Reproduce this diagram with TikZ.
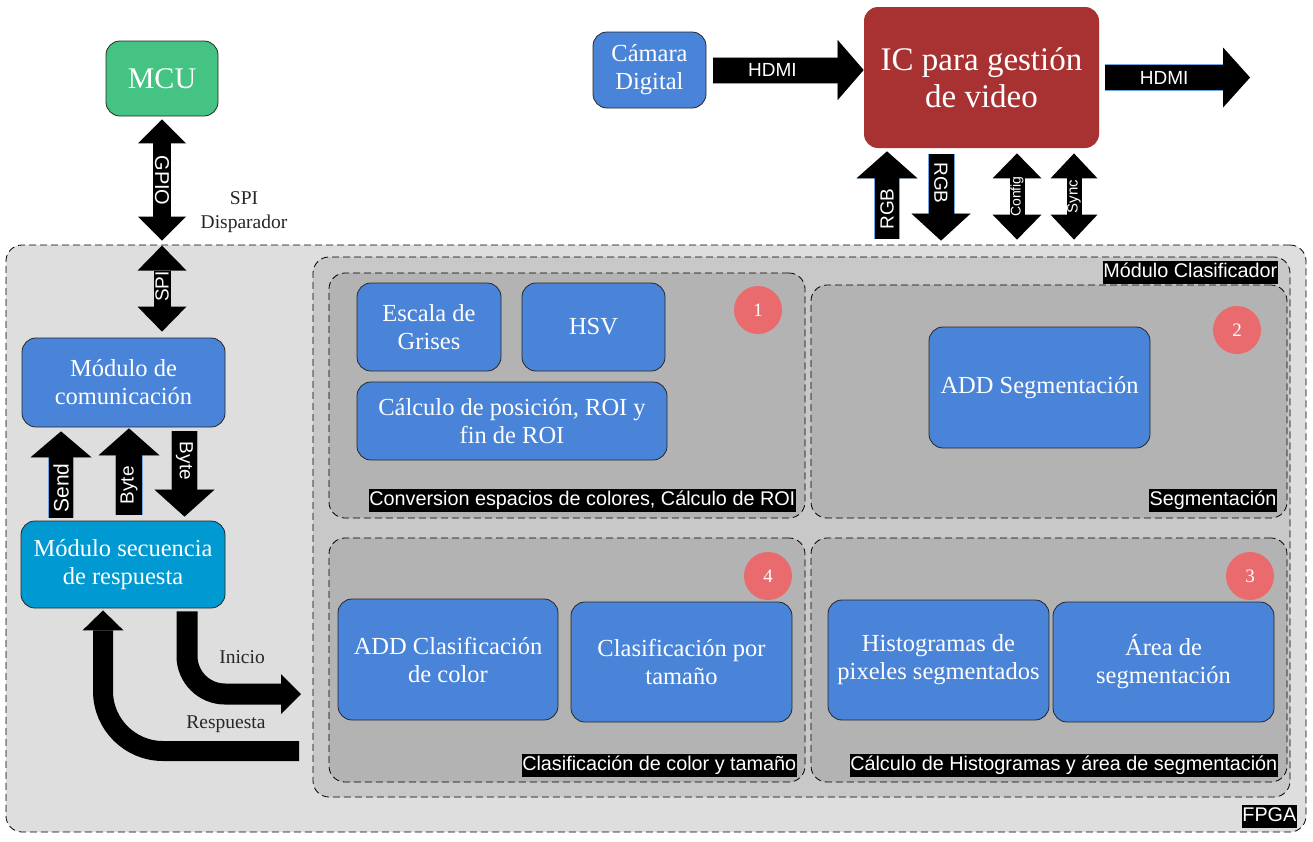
\documentclass[tikz,border=0pt]{standalone}
\usepackage{fontspec}
\setmainfont{Liberation Serif}
\setsansfont{Liberation Sans}
\usetikzlibrary{arrows.meta}

\definecolor{fpgagray}{RGB}{222,222,222}
\definecolor{clsgray}{RGB}{200,200,200}
\definecolor{subgray}{RGB}{179,179,179}
\definecolor{modblue}{RGB}{74,132,216}
\definecolor{seqblue}{RGB}{0,153,209}
\definecolor{mcugreen}{RGB}{68,195,131}
\definecolor{icred}{RGB}{168,50,50}
\definecolor{numred}{RGB}{234,107,110}
\definecolor{edgeblue}{RGB}{110,170,225}

\tikzset{
	modbox/.style={draw=black!85, line width=0.8, rounded corners=14, fill=modblue, text=white, align=center, font=\fontsize{24.5}{28}\selectfont},
	areabox/.style={draw, line width=0.8, dash pattern=on 7 off 4, rounded corners=16},
	tag/.style={fill=black, text=white, font=\sffamily\fontsize{19.8}{21}\selectfont, inner xsep=0.5, inner ysep=2, text height=14.5, text depth=4.5},
	numdot/.style={circle, fill=numred, text=white, minimum size=48, inner sep=0, font=\fontsize{19}{20}\selectfont},
	arrtxt/.style={text=white, font=\sffamily\fontsize{19}{20}\selectfont, inner sep=0},
	plain/.style={text=black!85, align=center, font=\fontsize{19.5}{24}\selectfont},
	bar/.style={draw=black, line width=#1, line cap=butt},
	edged/.style={preaction={draw=edgeblue, line width=#1}},
	tip/.style 2 args={arrows={-Triangle[length=#1, width=#2, line width=0pt]}},
	tips/.style 2 args={arrows={Triangle[length=#1, width=#2, line width=0pt]-Triangle[length=#1, width=#2, line width=0pt]}},
}

\begin{document}
\begin{tikzpicture}[x=1pt, y=-1pt]
	\useasboundingbox (0,0) rectangle (1313,841);
	
	%FPGA and its areas
	\node[areabox, fill=fpgagray, minimum width=1300, minimum height=587] (fpga) at (656,538.5) {};
	\node[areabox, fill=clsgray, minimum width=977, minimum height=540] (cls) at (801.5,527) {};
	\node[areabox, fill=subgray, minimum width=476, minimum height=245] (conv) at (567,395.5) {};
	\node[areabox, fill=subgray, minimum width=476, minimum height=233] (seg) at (1049,401.5) {};
	\node[areabox, fill=subgray, minimum width=476, minimum height=244] (clscol) at (567,660) {};
	\node[areabox, fill=subgray, minimum width=476, minimum height=244] (histo) at (1049,660) {};
	
	\node[tag, anchor=south east] (fpgatag) at (1297,828) {FPGA};
	\node[tag, anchor=south east] (clstag) at (1278,284) {Módulo Clasificador};
	\node[tag, anchor=south east] (convtag) at (796,512.5) {Conversion espacios de colores, Cálculo de ROI};
	\node[tag, anchor=south east] (segtag) at (1277,512.5) {Segmentación};
	\node[tag, anchor=south east] (clscoltag) at (797,777) {Clasificación de color y tamaño};
	\node[tag, anchor=south east] (histotag) at (1278,777) {Cálculo de Histogramas y área de segmentación};
	
	%Modules
	\node[modbox, minimum width=144, minimum height=88] (gris) at (429,327) {Escala de\\Grises};
	\node[modbox, minimum width=143, minimum height=88] (hsv) at (593.5,327) {HSV};
	\node[modbox, minimum width=310, minimum height=78] (roi) at (512,421) {Cálculo de posición, ROI y\\fin de ROI};
	\node[modbox, minimum width=221, minimum height=121] (addseg) at (1039.5,387.5) {ADD Segmentación};
	\node[modbox, minimum width=220, minimum height=121] (addcls) at (448,659.5) {ADD Clasificación\\de color};
	\node[modbox, minimum width=221, minimum height=120] (tam) at (681.5,662) {Clasificación por\\tamaño};
	\node[modbox, minimum width=221, minimum height=120] (hist) at (938.5,660) {Histogramas de\\pixeles segmentados};
	\node[modbox, minimum width=221, minimum height=120] (area) at (1163.5,662) {Área de\\segmentación};
	
	\node[numdot] (n1) at (758,310) {1};
	\node[numdot] (n2) at (1237,330) {2};
	\node[numdot] (n3) at (1250,576) {3};
	\node[numdot] (n4) at (768,576) {4};
	
	\node[modbox, minimum width=203, minimum height=89] (com) at (123.5,382.5) {Módulo de\\comunicación};
	\node[modbox, fill=seqblue, minimum width=204, minimum height=87] (seq) at (123,564.5) {Módulo secuencia\\de respuesta};
	
	%Outside the FPGA
	\node[modbox, fill=mcugreen, minimum width=112, minimum height=75, font=\fontsize{30}{34}\selectfont] (mcu) at (162,78.5) {MCU};
	\node[modbox, minimum width=113, minimum height=76] (cam) at (649.5,70) {Cámara\\Digital};
	\node[modbox, fill=icred, draw=none, minimum width=235, minimum height=141, font=\fontsize{33}{37}\selectfont] (ic) at (981.5,77.5) {IC para gestión\\de video};
	\coordinate (hdmiout) at (1250,77.5);
	
	\node[plain] (spitxt) at (244,212) {SPI\\Disparador};
	\node[plain] (initxt) at (242,657) {Inicio};
	\node[plain] (restxt) at (226,724) {Respuesta};
	
	%Video arrows
	\draw[bar=25, edged=27, tip={26pt}{60pt}, shorten <=7] (cam.east) -- node[arrtxt, pos=0.42] {HDMI} (cam.east -| ic.west);
	\draw[bar=25, edged=27, tip={27pt}{60pt}, shorten <=6] (ic.east) -- node[arrtxt, pos=0.43] {HDMI} (hdmiout);
	
	\coordinate (rgbup) at ([xshift=-94.5pt]ic.south);
	\coordinate (rgbdown) at ([xshift=-40.5pt]ic.south);
	\coordinate (config) at ([xshift=35.5pt]ic.south);
	\coordinate (sync) at ([xshift=92.5pt]ic.south);
	
	\draw[bar=24, edged=26, tip={27pt}{61pt}, shorten <=6, shorten >=3] (rgbup |- fpga.north) -- node[arrtxt, pos=0.37, rotate=90] {RGB} (rgbup);
	\draw[bar=25, edged=27, tip={27pt}{59pt}, shorten <=6, shorten >=4] (rgbdown) -- node[arrtxt, pos=0.36, rotate=-90] {RGB} (rgbdown |- fpga.north);
	\draw[bar=15, tips={25pt}{49pt}, shorten <=5, shorten >=5] (config) -- node[arrtxt, midway, rotate=90, font=\sffamily\fontsize{14}{15}\selectfont] {Config} (config |- fpga.north);
	\draw[bar=15, tips={25pt}{47pt}, shorten <=5, shorten >=5] (sync) -- node[arrtxt, midway, rotate=90, font=\sffamily\fontsize{15}{15}\selectfont] {Sync} (sync |- fpga.north);
	
	%MCU link
	\draw[bar=18, tips={24pt}{48pt}, shorten <=3, shorten >=4] (mcu.south) -- node[arrtxt, midway, rotate=-90, font=\sffamily\fontsize{20}{20}\selectfont] {GPIO} (mcu.south |- fpga.north);
	\draw[bar=17, tips={25pt}{49pt}, shorten <=1, shorten >=6] (mcu.south |- fpga.north) -- node[arrtxt, pos=0.45, rotate=90] {SPI} (mcu.south |- com.north);
	
	%Communication and sequence
	\draw[bar=24, edged=26, tip={26pt}{61pt}, shorten <=3, shorten >=4] ([xshift=-62pt]seq.north) -- node[arrtxt, pos=0.35, rotate=90, font=\sffamily\fontsize{21}{21}\selectfont] {Send} ([xshift=-62.5pt]com.south);
	\draw[bar=26, edged=28, tip={27pt}{61pt}, shorten <=6, shorten >=1] ([xshift=6pt]seq.north) -- node[arrtxt, pos=0.38, rotate=90] {Byte} ([xshift=5.5pt]com.south);
	\draw[bar=25, edged=27, tip={27pt}{60pt}, shorten <=4, shorten >=4] ([xshift=61pt]com.south) -- node[arrtxt, pos=0.36, rotate=-90] {Byte} ([xshift=61.5pt]seq.north);
	
	\coordinate (iniend) at (301,694);
	\coordinate (resstart) at (299,751);
	\draw[bar=21, rounded corners=38, tip={20pt}{40pt}, shorten <=3] ([xshift=64pt]seq.south) |- (iniend);
	\draw[bar=20, rounded corners=60, tip={20pt}{41pt}, shorten >=2] (resstart) -| ([xshift=-20pt]seq.south);
	
\end{tikzpicture}
\end{document}
